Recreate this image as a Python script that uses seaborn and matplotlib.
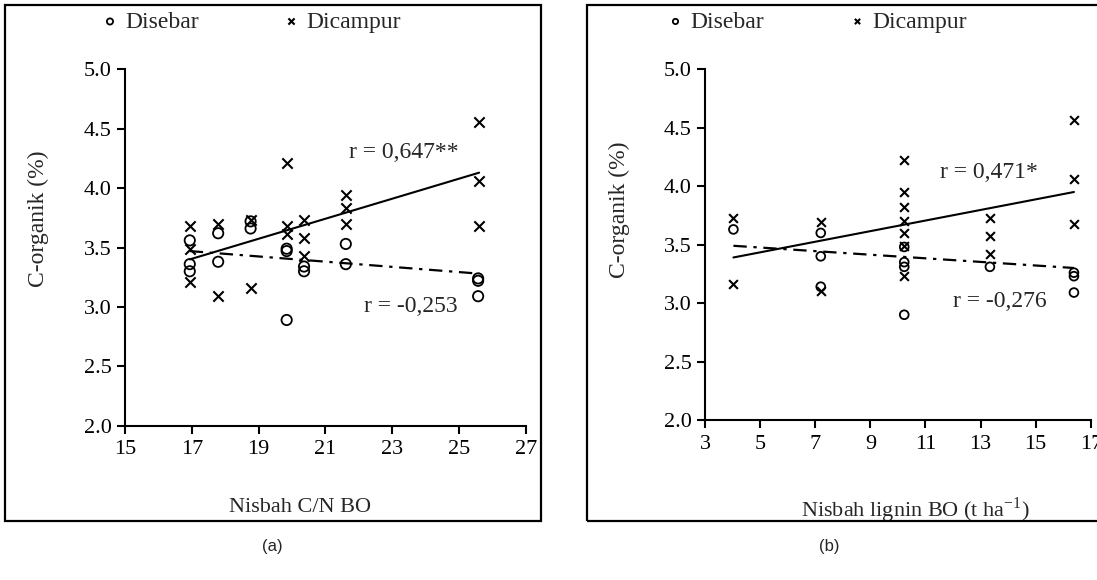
import numpy as np
import pandas as pd
import seaborn as sns
import matplotlib.pyplot as plt
from matplotlib.patches import Rectangle

#########################
# DATA
# panel (a): C/N ratio vs C-organik
cn_disebar = [16.94, 16.94, 16.94, 17.79, 17.79, 18.76, 18.76, 19.84, 19.84, 19.84,
              20.36, 20.36, 21.61, 21.61, 25.57, 25.57, 25.57]
c_disebar_a = [3.56, 3.36, 3.30, 3.38, 3.62, 3.72, 3.66, 3.49, 3.47, 2.89,
               3.34, 3.30, 3.53, 3.36, 3.24, 3.22, 3.09]
cn_dicampur = [16.94, 16.94, 16.94, 17.79, 17.79, 18.76, 18.76, 19.84, 19.84, 19.84,
               20.36, 20.36, 20.36, 21.61, 21.61, 21.61, 25.60, 25.60, 25.60]
c_dicampur_a = [3.68, 3.49, 3.21, 3.70, 3.09, 3.73, 3.16, 4.21, 3.68, 3.61,
                3.73, 3.58, 3.43, 3.94, 3.83, 3.70, 4.56, 4.06, 3.68]

# panel (b): lignin vs C-organik
lig_disebar = [4.03, 7.20, 7.20, 7.20, 10.23, 10.23, 10.23, 10.23, 13.34, 16.39, 16.39, 16.39]
c_disebar_b = [3.63, 3.40, 3.60, 3.14, 3.48, 3.35, 3.31, 2.90, 3.31, 3.26, 3.23, 3.09]
lig_dicampur = [4.03, 4.03, 7.20, 7.20, 10.23, 10.23, 10.23, 10.23, 10.23, 10.23, 10.23,
                13.34, 13.34, 13.34, 16.39, 16.39, 16.39]
c_dicampur_b = [3.73, 3.16, 3.69, 3.10, 4.22, 3.95, 3.82, 3.70, 3.60, 3.49, 3.23,
                3.73, 3.57, 3.42, 4.57, 4.06, 3.68]

# trend lines (end points)
trend_a_x = [16.94, 25.60]
trend_a_dicampur = [3.40, 4.13]
trend_a_disebar = [3.47, 3.28]
trend_b_x = [4.03, 16.39]
trend_b_dicampur = [3.39, 3.95]
trend_b_disebar = [3.49, 3.30]

r_labels_a = ['r = 0,647**', 'r = -0,253']
r_labels_b = ['r = 0,471*', 'r = -0,276']

xticks_a = [15, 17, 19, 21, 23, 25, 27]
xticks_b = [3, 5, 7, 9, 11, 13, 15, 17]
yticks = [2.0, 2.5, 3.0, 3.5, 4.0, 4.5, 5.0]

###########
# STYLE
sns.set_style('ticks')
plt.rcParams['font.family'] = ['Liberation Serif', 'DejaVu Serif']
plt.rcParams['axes.linewidth'] = 1.5
plt.rcParams['xtick.major.width'] = 1.5
plt.rcParams['ytick.major.width'] = 1.5
plt.rcParams['xtick.major.size'] = 5.5
plt.rcParams['ytick.major.size'] = 5.5
plt.rcParams['xtick.color'] = 'black'
plt.rcParams['ytick.color'] = 'black'
plt.rcParams['axes.edgecolor'] = 'black'

FS = 16
DASHDOT = (0, (6, 3, 1.5, 3))

fig = plt.figure(figsize=(10.97, 5.8), dpi=100)
ax_a = fig.add_axes([0.1139, 0.2660, 0.3655, 0.6145])
ax_b = fig.add_axes([0.6427, 0.2759, 0.3516, 0.6047])

# outer frames around each panel
fig.add_artist(Rectangle((0.0046, 0.1017), 0.4886, 0.8897, transform=fig.transFigure,
                         fill=False, lw=1.6, edgecolor='black'))
fig.add_artist(Rectangle((0.5351, 0.1017), 0.4700, 0.8897, transform=fig.transFigure,
                         fill=False, lw=1.6, edgecolor='black'))


def panel(ax, x_seb, y_seb, x_camp, y_camp, tx, t_camp, t_seb, msize):
    sns.scatterplot(x=x_seb, y=y_seb, ax=ax, marker='o', s=msize,
                    facecolor='none', edgecolor='black', linewidth=1.3, label='Disebar')
    sns.scatterplot(x=x_camp, y=y_camp, ax=ax, marker='x', s=msize,
                    color='black', linewidth=1.5, label='Dicampur')
    sns.lineplot(x=tx, y=t_camp, ax=ax, color='black', lw=1.5, legend=False)
    sns.lineplot(x=tx, y=t_seb, ax=ax, color='black', lw=1.6, linestyle=DASHDOT, legend=False)
    ax.set_ylim(2.0, 5.0)
    ax.set_yticks(yticks)
    ax.set_yticklabels([f'{v:.1f}' for v in yticks], fontsize=FS)
    ax.tick_params(axis='x', labelsize=FS, pad=5)
    ax.tick_params(axis='y', pad=4)
    sns.despine(ax=ax)
    ax.set_ylabel('C-organik (%)', fontsize=FS + 1)


panel(ax_a, cn_disebar, c_disebar_a, cn_dicampur, c_dicampur_a,
      trend_a_x, trend_a_dicampur, trend_a_disebar, 55)
ax_a.set_xlim(15, 27)
ax_a.set_xticks(xticks_a)
ax_a.set_xlabel('Nisbah C/N BO', fontsize=FS)
ax_a.xaxis.set_label_coords(0.436, -0.203)
ax_a.yaxis.set_label_coords(-0.19, 0.58)
ax_a.text(23.35, 4.30, r_labels_a[0], fontsize=FS + 1, ha='center', va='center')
ax_a.text(23.56, 3.00, r_labels_a[1], fontsize=FS + 1, ha='center', va='center')

panel(ax_b, lig_disebar, c_disebar_b, lig_dicampur, c_dicampur_b,
      trend_b_x, trend_b_dicampur, trend_b_disebar, 40)
ax_b.set_xlim(3, 17)
ax_b.set_xticks(xticks_b)
ax_b.set_xlabel('Nisbah lignin BO (t ha$^{\\mathregular{-1}}$)', fontsize=FS)
ax_b.xaxis.set_label_coords(0.544, -0.215)
ax_b.yaxis.set_label_coords(-0.195, 0.60)
ax_b.text(13.31, 4.12, r_labels_b[0], fontsize=FS + 1, ha='center', va='center')
ax_b.text(13.71, 3.01, r_labels_b[1], fontsize=FS + 1, ha='center', va='center')

for ax, anchor in [(ax_a, (-0.055, 1.133)), (ax_b, (-0.095, 1.135))]:
    h, l = ax.get_legend_handles_labels()
    ax.legend(h, l, loc='center left', bbox_to_anchor=anchor, ncol=2, frameon=False,
              fontsize=FS + 1, markerscale=0.6, handlelength=0.6, handletextpad=0.35,
              columnspacing=3.6, borderpad=0, borderaxespad=0)

fig.text(272 / 1097, 1 - 547 / 580, '(a)', fontsize=12, ha='center', va='center',
         family=['Liberation Sans', 'DejaVu Sans'])
fig.text(829 / 1097, 1 - 547 / 580, '(b)', fontsize=12, ha='center', va='center',
         family=['Liberation Sans', 'DejaVu Sans'])

fig.savefig('out.png', dpi=100)
